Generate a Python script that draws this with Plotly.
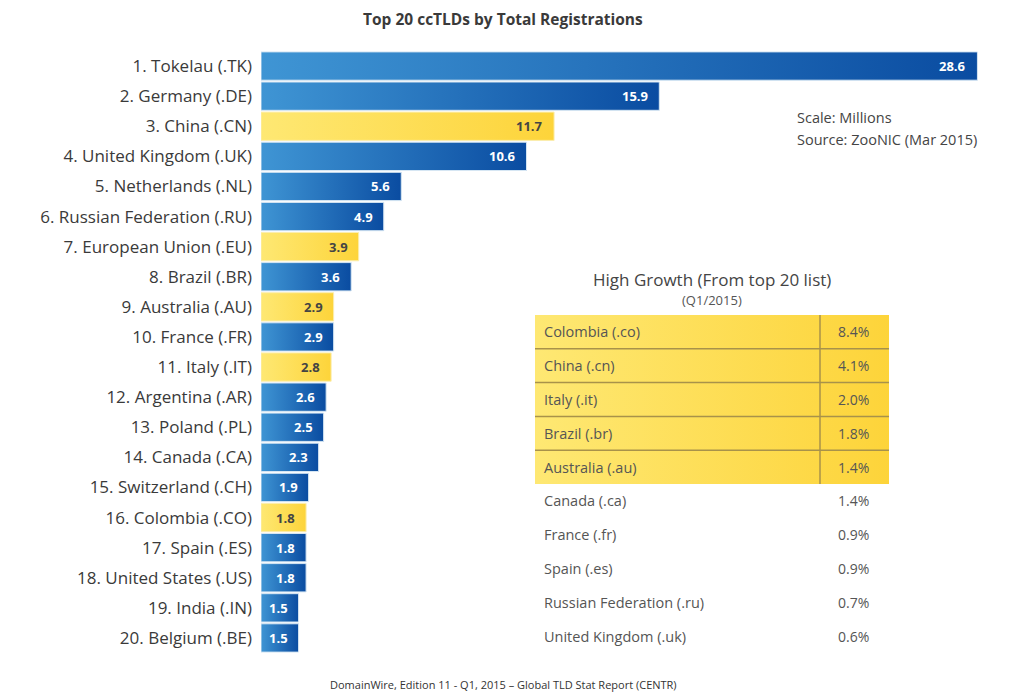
import plotly.graph_objects as go

# ---------------- data ----------------
countries = [
    "1. Tokelau (.TK)", "2. Germany (.DE)", "3. China (.CN)", "4. United Kingdom (.UK)",
    "5. Netherlands (.NL)", "6. Russian Federation (.RU)", "7. European Union (.EU)",
    "8. Brazil (.BR)", "9. Australia (.AU)", "10. France (.FR)", "11. Italy (.IT)",
    "12. Argentina (.AR)", "13. Poland (.PL)", "14. Canada (.CA)", "15. Switzerland (.CH)",
    "16. Colombia (.CO)", "17. Spain (.ES)", "18. United States (.US)", "19. India (.IN)",
    "20. Belgium (.BE)",
]
registrations = [28.6, 15.9, 11.7, 10.6, 5.6, 4.9, 3.9, 3.6, 2.9, 2.9,
                 2.8, 2.6, 2.5, 2.3, 1.9, 1.8, 1.8, 1.8, 1.5, 1.5]
high_growth_flag = [False, False, True, False, False, False, True, False, True, False,
                    True, False, False, False, False, True, False, False, False, False]

growth_names = ["Colombia (.co)", "China (.cn)", "Italy (.it)", "Brazil (.br)",
                "Australia (.au)", "Canada (.ca)", "France (.fr)", "Spain (.es)",
                "Russian Federation (.ru)", "United Kingdom (.uk)"]
growth_values = ["8.4%", "4.1%", "2.0%", "1.8%", "1.4%", "1.4%", "0.9%", "0.9%", "0.7%", "0.6%"]
n_growth_highlight = 5

FONT = "Open Sans"
BLUE_SCALE = [[0, "#3f95d4"], [1, "#0a4ca1"]]
YELLOW_SCALE = [[0, "#fee873"], [1, "#fdd43a"]]

L, R, T, B = 261, 24, 51, 47
W, H = 1024, 700
pw, ph = W - L - R, H - T - B


def px_x(x):
    return (x - L) / pw


def px_y(y):
    return (H - B - y) / ph


fig = go.Figure()

half = 0.47
for i, (v, hl) in enumerate(zip(registrations, high_growth_flag)):
    fig.add_trace(go.Scatter(
        x=[0, v, v, 0, 0],
        y=[i - half, i - half, i + half, i + half, i - half],
        mode="lines", fill="toself",
        fillgradient=dict(type="horizontal", colorscale=YELLOW_SCALE if hl else BLUE_SCALE),
        line=dict(color="#d6e6f3" if not hl else "#fbeeb0", width=1),
        hoverinfo="skip", showlegend=False,
    ))
    fig.add_annotation(
        x=v, y=i, xref="x", yref="y", text=str(v), showarrow=False,
        xanchor="right", xshift=-9,
        font=dict(family=FONT, size=13, weight="bold", color="#444444" if hl else "#ffffff"),
    )

# ---------- growth table (pixel-like overlay axes) ----------
X0, X1, XM = 535, 889, 820
row_h = 33.8
top = 315
rows_y = [top + row_h * (k + 0.5) for k in range(len(growth_names))]
hl_bottom = top + row_h * n_growth_highlight

fig.add_trace(go.Scatter(
    x=[X0, X1, X1, X0, X0], y=[top, top, hl_bottom, hl_bottom, top],
    xaxis="x2", yaxis="y2", mode="lines", fill="toself",
    fillgradient=dict(type="horizontal", colorscale=YELLOW_SCALE),
    line=dict(width=0, color="rgba(0,0,0,0)"), hoverinfo="skip", showlegend=False,
))

shapes = []
for k in range(1, n_growth_highlight):
    yk = top + row_h * k
    shapes.append(dict(type="line", xref="x2", yref="y2", x0=X0, x1=X1, y0=yk, y1=yk,
                       line=dict(color="#a8924a", width=1.5)))
shapes.append(dict(type="line", xref="x2", yref="y2", x0=XM, x1=XM, y0=top, y1=hl_bottom,
                   line=dict(color="#a8924a", width=1.5)))

for name, val, yy in zip(growth_names, growth_values, rows_y):
    fig.add_annotation(x=542, y=yy, xref="x2", yref="y2", text=name, showarrow=False,
                       xanchor="left", font=dict(family=FONT, size=14.5, color="#555555"))
    fig.add_annotation(x=871, y=yy, xref="x2", yref="y2", text=val, showarrow=False,
                       xanchor="right", font=dict(family=FONT, size=14, color="#555555"))

fig.add_annotation(x=712, y=279, xref="x2", yref="y2", text="High Growth (From top 20 list)",
                   showarrow=False, font=dict(family=FONT, size=17, color="#444444"))
fig.add_annotation(x=712, y=300, xref="x2", yref="y2", text="(Q1/2015)",
                   showarrow=False, font=dict(family=FONT, size=13, color="#555555"))

fig.add_annotation(x=795, y=117, xref="x2", yref="y2", text="Scale: Millions",
                   showarrow=False, xanchor="left", font=dict(family=FONT, size=14.5, color="#444444"))
fig.add_annotation(x=795, y=139, xref="x2", yref="y2", text="Source: ZooNIC (Mar 2015)",
                   showarrow=False, xanchor="left", font=dict(family=FONT, size=14.5, color="#444444"))

# title & footer (paper coordinates computed from pixel positions)
fig.add_annotation(x=px_x(503), y=px_y(19), xref="paper", yref="paper",
                   text="Top 20 ccTLDs by Total Registrations", showarrow=False,
                   xanchor="center", yanchor="middle",
                   font=dict(family=FONT, size=15.5, weight="bold", color="#3a3a3a"))
fig.add_annotation(x=px_x(503), y=px_y(685), xref="paper", yref="paper",
                   text="DomainWire, Edition 11 - Q1, 2015 – Global TLD Stat Report (CENTR)",
                   showarrow=False, xanchor="center", yanchor="middle",
                   font=dict(family=FONT, size=11, color="#333333"))

fig.update_layout(
    width=W, height=H,
    margin=dict(l=L, r=R, t=T, b=B),
    paper_bgcolor="white", plot_bgcolor="white",
    shapes=shapes,
    xaxis=dict(range=[0, pw / 25.05], visible=False, fixedrange=True),
    yaxis=dict(range=[19.5, -0.5], tickvals=list(range(len(countries))), ticktext=countries,
               showgrid=False, zeroline=False, showline=False, ticks="",
               tickfont=dict(family=FONT, size=17, color="#3a3a3a"), ticklabelstandoff=8),
    xaxis2=dict(range=[L, W - R], overlaying="x", visible=False),
    yaxis2=dict(range=[H - B, T], overlaying="y", visible=False),
)

fig.write_html("out.html")
